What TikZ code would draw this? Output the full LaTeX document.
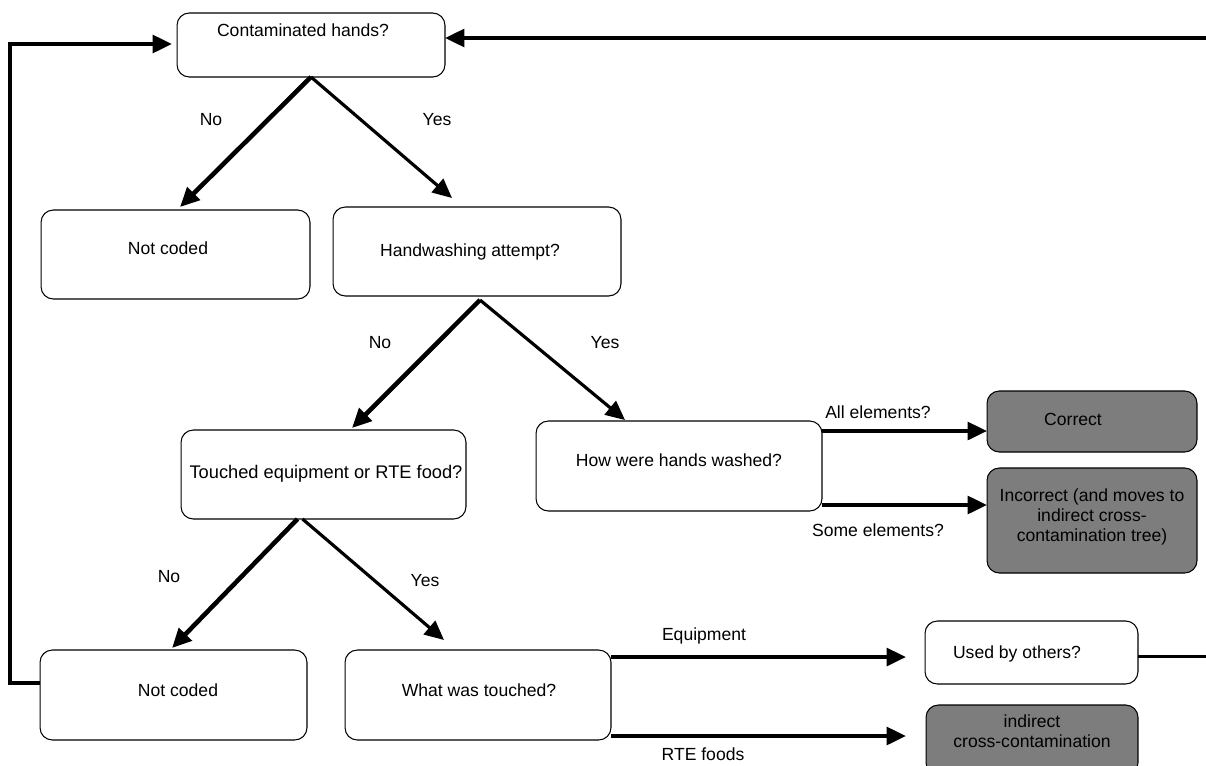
\documentclass[tikz,border=0pt]{standalone}
\usepackage{fontspec}
\setmainfont{Liberation Sans}
\usetikzlibrary{arrows.meta,calc}
\begin{document}
\begin{tikzpicture}[x=0.02cm,y=-0.02cm,
  font=\fontsize{10}{11.5}\selectfont,
  box/.style={draw, line width=0.6pt, rounded corners=7pt, inner sep=0pt, outer sep=0pt},
  gbox/.style={box, fill=boxgray},
  txt/.style={inner sep=0pt, align=center},
  arr/.style={line width=2.2pt, -{Triangle[length=11pt,width=10pt]}},
  arrno/.style={line width=2.6pt, -{Triangle[length=11pt,width=10pt]}},
  arryes/.style={line width=1.8pt, -{Triangle[length=11pt,width=10pt]}},
  plain/.style={line width=2.2pt}
]
\definecolor{boxgray}{RGB}{125,125,125}
\useasboundingbox (0,0) rectangle (1206,765);

% boxes
\node[box, minimum width=5.36cm, minimum height=1.28cm] (ch) at (311,45) {};
\node[box, minimum width=5.38cm, minimum height=1.78cm] (nc1) at (175.5,254.5) {};
\node[box, minimum width=5.76cm, minimum height=1.78cm] (hw) at (477,251.5) {};
\node[box, minimum width=5.70cm, minimum height=1.78cm] (te) at (323.5,474.5) {};
\node[box, minimum width=5.72cm, minimum height=1.80cm] (hh) at (679,466) {};
\node[gbox, minimum width=4.20cm, minimum height=1.22cm] (cor) at (1092,421.5) {};
\node[gbox, minimum width=4.20cm, minimum height=2.10cm] (inc) at (1092,520.5) {};
\node[box, minimum width=5.34cm, minimum height=1.80cm] (nc2) at (173.5,695) {};
\node[box, minimum width=5.32cm, minimum height=1.80cm] (wt) at (478,695) {};
\node[box, minimum width=4.26cm, minimum height=1.26cm] (ub) at (1031.5,652.5) {};
\node[gbox, minimum width=4.24cm, minimum height=1.40cm] (ic) at (1032,740) {};

% box texts
\node[txt] (tch) at (303,30) {Contaminated hands?};
\node[txt] (tnc1) at (168,248) {Not coded};
\node[txt] (thw) at (470,252) {Handwashing attempt?};
\node[txt, font=\fontsize{10.4}{12}\selectfont] (tte) at (326,474) {Touched equipment or RTE food?};
\node[txt] (thh) at (679,460) {How were hands washed?};
\node[txt] (tcor) at (1073,419) {Correct};
\node[txt] (tinc) at (1092,517) {Incorrect (and moves to\\indirect cross-\\contamination tree)};
\node[txt] (tnc2) at (178,690) {Not coded};
\node[txt] (twt) at (479,690) {What was touched?};
\node[txt] (tub) at (1017,654) {Used by others?};
\node[txt] (tic) at (1032,731) {indirect\\cross-contamination};

% edge labels
\node[txt] (l1) at (211,120) {No};
\node[txt] (l2) at (437,120) {Yes};
\node[txt] (l3) at (380,343) {No};
\node[txt] (l4) at (605,343) {Yes};
\node[txt] (l5) at (169,577) {No};
\node[txt] (l6) at (425,581) {Yes};
\node[txt] (l7) at (878,412) {All elements?};
\node[txt] (l8) at (878,530) {Some elements?};
\node[txt] (l9) at (704,636) {Equipment};
\node[txt] (l10) at (703,754) {RTE foods};

% coordinates
\coordinate (tr) at (1206,38);
\coordinate (lp) at (10,44);
\coordinate (br) at (1206,656);

% loops
\draw[arr] (tr) -- ($(ch.east)+(0,-7)$);
\draw[arr] ($(nc2.west)+(0,-12)$) -| (lp) -- ($(ch.west)+(-5,-1)$);
\coordinate (a5) at ($(ub.east)+(0,4)$);
\draw[plain] (a5) -- (a5 -| br);

% diagonals
\draw[arrno] (ch.south) -- ($(nc1.north west)+(139,-3)$);
\draw[arryes] (ch.south) -- ($(hw.north west)+(119,-9)$);
\draw[arrno] ($(hw.south)+(3,4)$) -- ($(te.north west)+(171,-2)$);
\draw[arryes] ($(hw.south)+(3,4)$) -- ($(hh.north west)+(89,-1)$);
\draw[arrno] ($(te.south)+(-26,0)$) -- ($(nc2.north west)+(132,-2)$);
\draw[arryes] ($(te.south)+(-21,0)$) -- ($(wt.north west)+(99,-10)$);

% horizontals
\coordinate (a1) at ($(hh.north east)+(0,10)$);
\draw[arr] (a1) -- (a1 -| cor.west);
\coordinate (a2) at ($(hh.south east)+(0,-6)$);
\draw[arr] (a2) -- (a2 -| inc.west);
\coordinate (a3) at ($(wt.north east)+(0,7)$);
\draw[arr] (a3) -- ($(a3 -| ub.west)+(-19,0)$);
\coordinate (a4) at ($(wt.south east)+(0,-4)$);
\draw[arr] (a4) -- ($(a4 -| ic.west)+(-20,0)$);
\end{tikzpicture}
\end{document}
